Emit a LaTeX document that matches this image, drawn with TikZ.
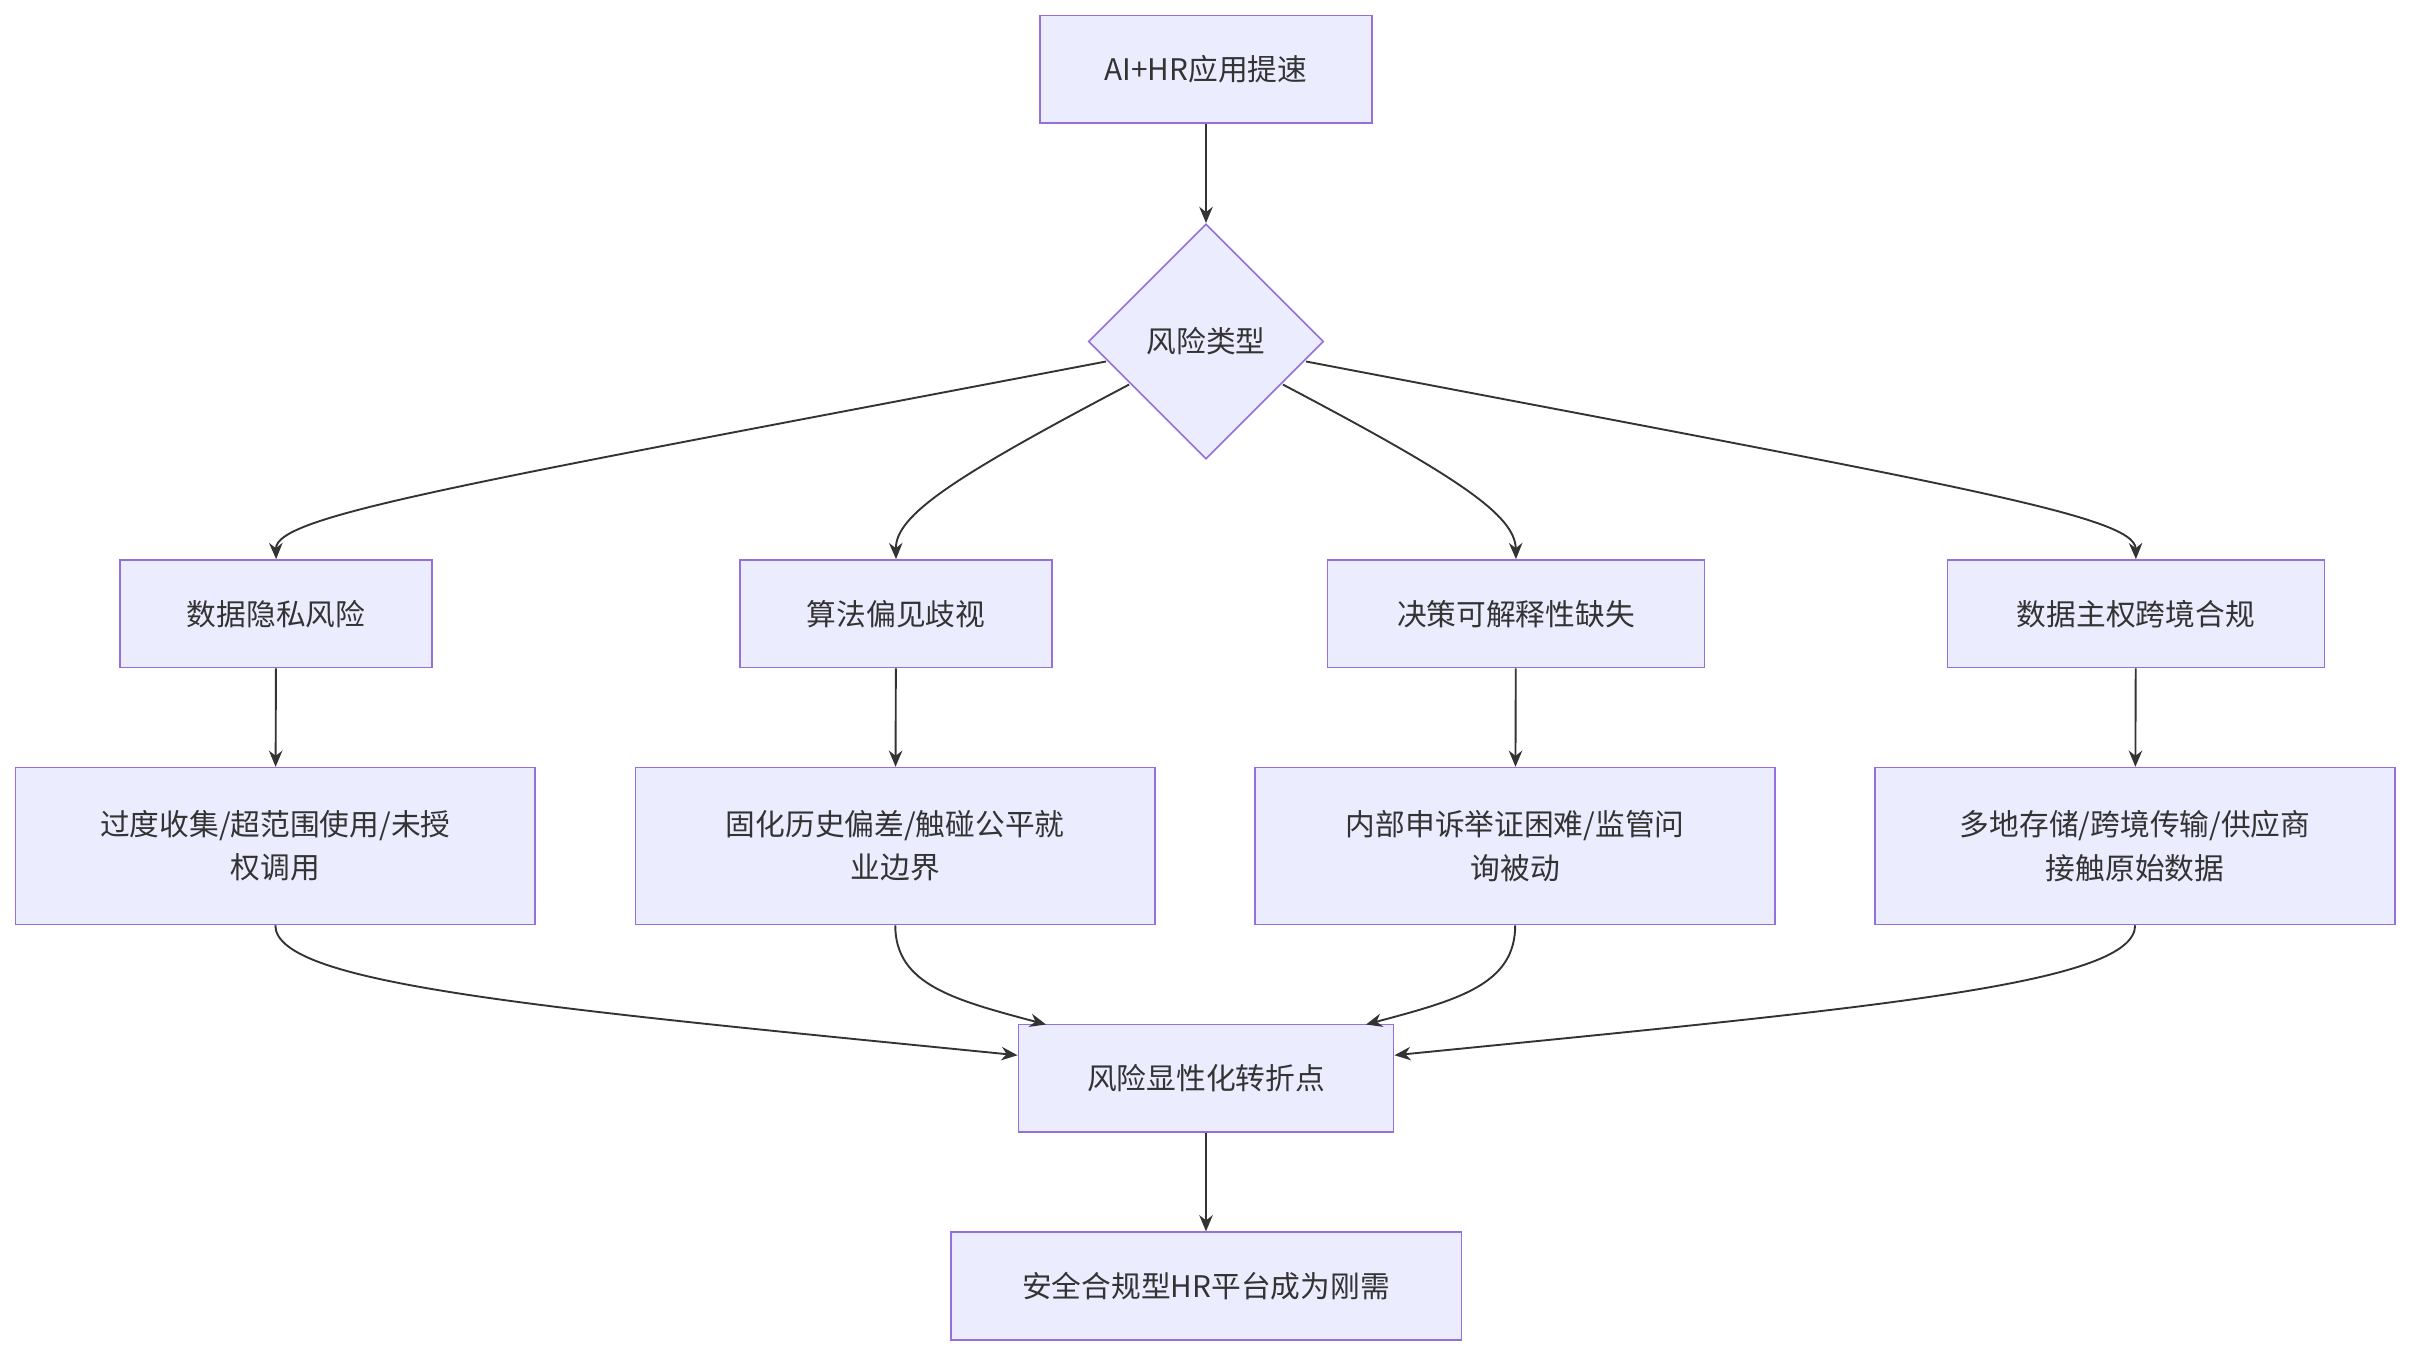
\documentclass[tikz,border=0pt]{standalone}
\usepackage{fontspec}
\setmainfont{Noto Sans CJK SC}
\usetikzlibrary{shapes.geometric,arrows.meta}
\definecolor{boxfill}{HTML}{ECECFF}
\definecolor{boxline}{HTML}{9370DB}
\definecolor{edge}{HTML}{333333}
\begin{document}
\begin{tikzpicture}[x=0.02cm,y=-0.02cm,
    box/.style={draw=boxline,fill=boxfill,line width=0.6pt,align=center,
      font=\fontsize{11}{16}\selectfont,text=edge,inner sep=0pt},
    dia/.style={diamond,draw=boxline,fill=boxfill,line width=0.6pt,
      font=\fontsize{11}{16}\selectfont,text=edge,minimum width=3.06cm,minimum height=3.06cm,inner sep=0pt},
    flow/.style={draw=edge,line width=0.7pt,-{Stealth[length=6pt,width=5pt]}}]
  \useasboundingbox (0,0) rectangle (1568,882);
  % top
  \node[box,minimum width=4.32cm,minimum height=1.4cm] (start) at (784,45) {AI+HR应用提速};
  \node[dia] (type) at (784,222) {风险类型};
  % risk kinds
  \node[box,minimum width=4.06cm,minimum height=1.4cm] (privacy) at (179.5,399) {数据隐私风险};
  \node[box,minimum width=4.06cm,minimum height=1.4cm] (bias) at (582.5,399) {算法偏见歧视};
  \node[box,minimum width=4.9cm,minimum height=1.4cm] (explain) at (985.5,399) {决策可解释性缺失};
  \node[box,minimum width=4.9cm,minimum height=1.4cm] (sovereign) at (1388.5,399) {数据主权跨境合规};
  % details
  \node[box,minimum width=6.76cm,minimum height=2.04cm] (collect) at (179,550) {过度收集/超范围使用/未授\\权调用};
  \node[box,minimum width=6.76cm,minimum height=2.04cm] (history) at (582,550) {固化历史偏差/触碰公平就\\业边界};
  \node[box,minimum width=6.76cm,minimum height=2.04cm] (appeal) at (985,550) {内部申诉举证困难/监管问\\询被动};
  \node[box,minimum width=6.76cm,minimum height=2.04cm] (storage) at (1388,550) {多地存储/跨境传输/供应商\\接触原始数据};
  % bottom
  \node[box,minimum width=4.88cm,minimum height=1.4cm] (turn) at (784,701) {风险显性化转折点};
  \node[box,minimum width=6.64cm,minimum height=1.4cm] (platform) at (784,836) {安全合规型HR平台成为刚需};

  \draw[flow] (start) -- (type);
  \draw[flow] (type.west) ++(12,13) .. controls (300,315) and (179,335) .. (privacy.north);
  \draw[flow] (type) ++(-50,28) .. controls (620,310) and (582,335) .. (bias.north);
  \draw[flow] (type) ++(50,28) .. controls (948,310) and (985,335) .. (explain.north);
  \draw[flow] (type.east) ++(-12,13) .. controls (1268,315) and (1388,335) .. (sovereign.north);
  \draw[flow] (privacy) -- (collect);
  \draw[flow] (bias) -- (history);
  \draw[flow] (explain) -- (appeal);
  \draw[flow] (sovereign) -- (storage);
  \draw[flow] (collect.south) .. controls (179,640) and (350,655) .. (turn.west|-0,686);
  \draw[flow] (history.south) .. controls (582,640) and (620,650) .. (680,666);
  \draw[flow] (appeal.south) .. controls (985,640) and (948,650) .. (888,666);
  \draw[flow] (storage.south) .. controls (1388,640) and (1218,655) .. (turn.east|-0,686);
  \draw[flow] (turn) -- (platform);
\end{tikzpicture}
\end{document}
